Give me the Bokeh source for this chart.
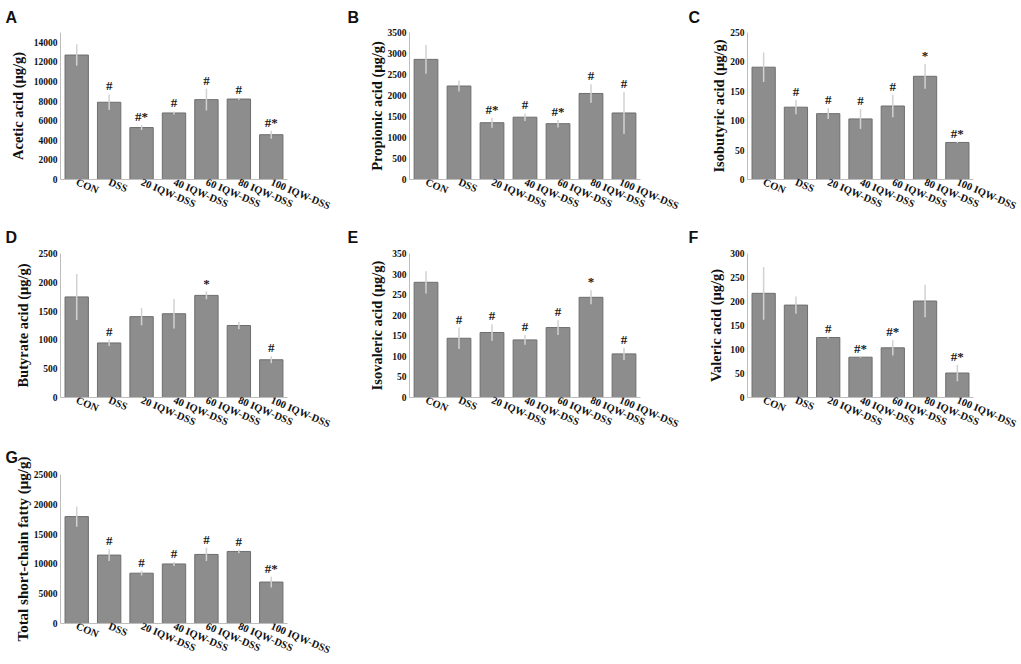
from bokeh.plotting import figure
from bokeh.models import ColumnDataSource, FactorRange, Range1d, FixedTicker
from bokeh.layouts import column, row
from bokeh.core.properties import value
from bokeh.embed import file_html
from bokeh.resources import INLINE

categories = ["CON", "DSS", "20 IQW-DSS", "40 IQW-DSS", "60 IQW-DSS", "80 IQW-DSS", "100 IQW-DSS"]

acetic = [12700, 7880, 5300, 6790, 8150, 8210, 4570]
acetic_err = [1100, 800, 250, 150, 1100, 100, 400]
acetic_marks = ["", "#", "#*", "#", "#", "#", "#*"]
acetic_ticks = [0, 2000, 4000, 6000, 8000, 10000, 12000, 14000]

propionic = [2860, 2226, 1352, 1484, 1329, 2048, 1584]
propionic_err = [340, 130, 120, 90, 90, 220, 500]
propionic_marks = ["", "", "#*", "#", "#*", "#", "#"]
propionic_ticks = [0, 500, 1000, 1500, 2000, 2500, 3000, 3500]

isobutyric = [191, 123, 112, 103, 125, 175.5, 63]
isobutyric_err = [25, 12, 9, 17, 19, 21, 1]
isobutyric_marks = ["", "#", "#", "#", "#", "*", "#*"]
isobutyric_ticks = [0, 50, 100, 150, 200, 250]

butyrate = [1746, 947, 1404, 1454, 1773, 1250, 655]
butyrate_err = [400, 55, 150, 255, 66, 66, 60]
butyrate_marks = ["", "#", "", "", "*", "", "#"]
butyrate_ticks = [0, 500, 1000, 1500, 2000, 2500]

isovaleric = [280, 144, 158, 140, 170, 243.5, 106]
isovaleric_err = [27, 26, 20, 12, 18, 17, 15]
isovaleric_marks = ["", "#", "#", "#", "#", "*", "#"]
isovaleric_ticks = [0, 50, 100, 150, 200, 250, 300, 350]

valeric = [217, 192.5, 125, 84, 103.5, 201, 51]
valeric_err = [55, 18, 2, 1, 16, 34, 17]
valeric_marks = ["", "", "#", "#*", "#*", "", "#*"]
valeric_ticks = [0, 50, 100, 150, 200, 250, 300]

total = [17936, 11479, 8444, 9989, 11589, 12086, 6954]
total_err = [1700, 1000, 400, 350, 1100, 300, 900]
total_marks = ["", "#", "#", "#", "#", "#", "#*"]
total_ticks = [0, 5000, 10000, 15000, 20000, 25000]

panels = [
    ("A", "Acetic acid (μg/g)", acetic, acetic_err, acetic_marks, acetic_ticks, 15000),
    ("B", "Propionic acid (μg/g)", propionic, propionic_err, propionic_marks, propionic_ticks, 3500),
    ("C", "Isobutyric acid (μg/g)", isobutyric, isobutyric_err, isobutyric_marks, isobutyric_ticks, 250),
    ("D", "Butyrate acid (μg/g)", butyrate, butyrate_err, butyrate_marks, butyrate_ticks, 2500),
    ("E", "Isovaleric acid (μg/g)", isovaleric, isovaleric_err, isovaleric_marks, isovaleric_ticks, 350),
    ("F", "Valeric acid (μg/g)", valeric, valeric_err, valeric_marks, valeric_ticks, 300),
    ("G", "Total short-chain fatty (μg/g)", total, total_err, total_marks, total_ticks, 25000),
]

# column geometry: (figure width, frame left, frame width, letter x in canvas)
col_geom = [(340, 60, 227, 5), (340, 69, 231, 7), (341, 67, 226, 8)]
# row geometry: (figure height, frame top, frame height, title standoff)
row_geom = [(219, 32, 151, 13), (218, 32, 151, 15), (227, 35, 151, 18)]
# y-axis label standoff per panel
label_standoff = [5, 0, 0, 5, 4, 3, 0]

SERIF = "Liberation Serif"


def make_panel(i, letter, ylabel, vals, errs, marks, ticks, ymax):
    c = i % 3
    r = i // 3
    W, fl, fw, lx = col_geom[c]
    H, T, FH, tstand = row_geom[r]
    p = figure(width=W, height=H, x_range=FactorRange(*categories, range_padding=0.0),
               y_range=Range1d(0, ymax), output_backend="svg", toolbar_location=None,
               min_border_left=fl, min_border_right=W - fl - fw,
               min_border_top=T, min_border_bottom=H - T - FH,
               background_fill_color="white", border_fill_color="white",
               title=letter)
    p.title.align = "left"
    p.title.offset = lx - fl
    p.title.standoff = tstand
    p.title.text_font = "Liberation Sans"
    p.title.text_font_style = "bold"
    p.title.text_font_size = "16px"
    p.title.text_color = "#111111"
    p.outline_line_color = None
    p.xgrid.grid_line_color = None
    p.ygrid.grid_line_color = None

    src = ColumnDataSource(dict(
        x=categories, top=vals,
        lo=[v - e for v, e in zip(vals, errs)],
        hi=[v + e for v, e in zip(vals, errs)],
        mark=marks,
    ))
    p.vbar(x="x", top="top", bottom=0, width=0.72, source=src,
           fill_color="#8d8d8d", line_color="#6e6e6e", line_width=1)
    p.segment(x0="x", y0="lo", x1="x", y1="hi", source=src,
              line_color="#d2d2d2", line_width=1.5)
    p.text(x="x", y="hi", text="mark", source=src, text_align="center",
           text_baseline="bottom", y_offset=-1, text_font=value(SERIF),
           text_font_style="bold", text_font_size="13px", text_color="#1a1a1a")

    p.yaxis.ticker = FixedTicker(ticks=ticks)
    p.yaxis.axis_label = ylabel
    p.yaxis.axis_label_text_font = SERIF
    p.yaxis.axis_label_text_font_style = "bold"
    p.yaxis.axis_label_text_font_size = "15px" if letter == "G" else "14.5px"
    p.yaxis.axis_label_text_color = "#111111"
    p.yaxis.axis_label_standoff = label_standoff[i]
    p.yaxis.major_label_text_font = SERIF
    p.yaxis.major_label_text_font_style = "bold"
    p.yaxis.major_label_text_font_size = "9.5px"
    p.yaxis.major_label_text_color = "#111111"
    p.yaxis.major_label_standoff = 3
    p.yaxis.major_tick_out = 0
    p.yaxis.major_tick_in = 0
    p.yaxis.minor_tick_out = 0
    p.yaxis.minor_tick_in = 0
    p.yaxis.axis_line_color = "#bdbdbd"

    p.xaxis.major_label_orientation = -0.4
    p.xaxis.major_label_text_font = SERIF
    p.xaxis.major_label_text_font_style = "bold"
    p.xaxis.major_label_text_font_size = "10.5px"
    p.xaxis.major_label_text_color = "#111111"
    p.xaxis.major_label_standoff = 2
    p.xaxis.major_tick_out = 0
    p.xaxis.major_tick_in = 0
    p.xaxis.axis_line_color = "#bdbdbd"
    return p


figs = [make_panel(i, *pn) for i, pn in enumerate(panels)]

layout = column(
    row(figs[0], figs[1], figs[2]),
    row(figs[3], figs[4], figs[5]),
    row(figs[6]),
)

open("out.html", "w").write(file_html(layout, INLINE))
